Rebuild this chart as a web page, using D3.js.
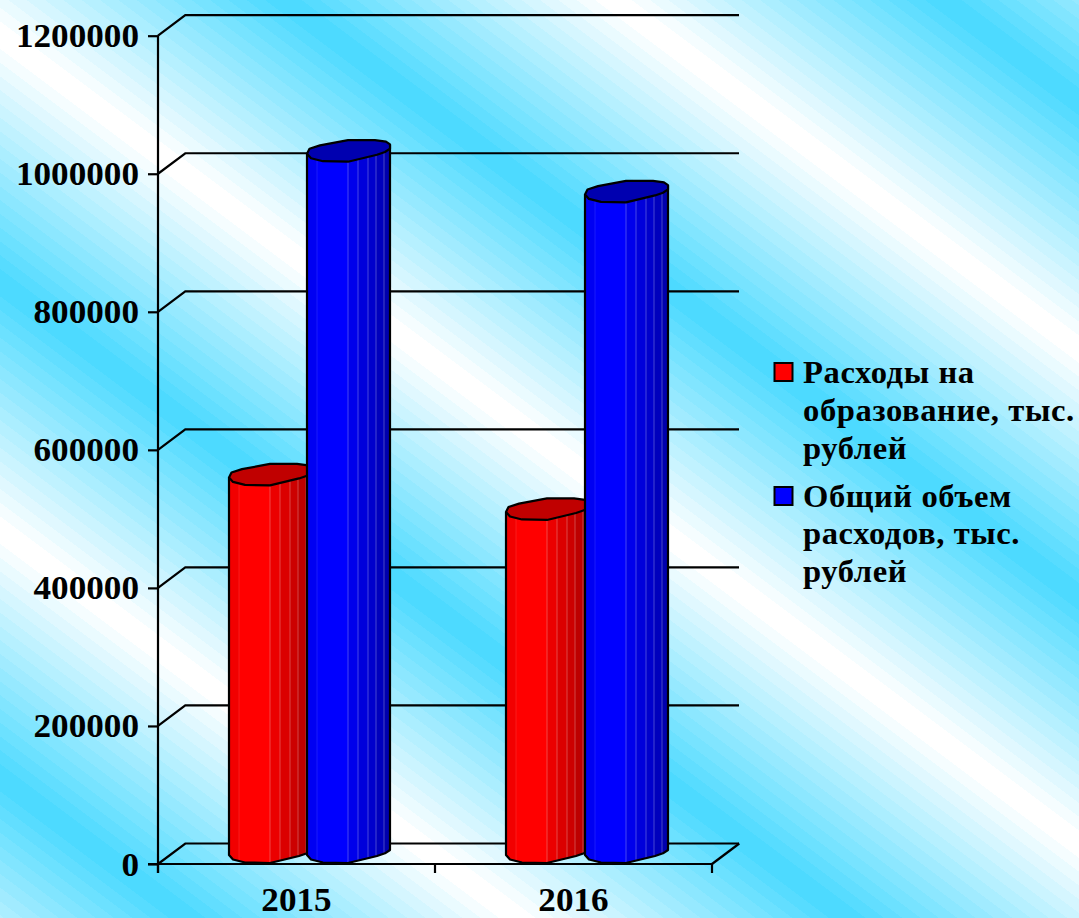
<!DOCTYPE html>
<html lang="ru">
<head>
<meta charset="utf-8">
<script src="https://cdn.jsdelivr.net/npm/d3@7/dist/d3.min.js"></script>
<style>
html,body{margin:0;padding:0;overflow:hidden;background:#fff}
svg{display:block}
text{font-family:"Liberation Serif",serif;font-weight:bold;fill:#000}
</style>
</head>
<body>
<script>
const categories = ["2015", "2016"];
const seriesNames = ["Расходы на образование, тыс. рублей", "Общий объем расходов, тыс. рублей"];
const educationSpending = [547000, 497000];
const totalSpending = [1016000, 957000];
const yTicks = [0, 200000, 400000, 600000, 800000, 1000000, 1200000];
const legendLines = [["Расходы на", "образование, тыс.", "рублей"], ["Общий объем", "расходов, тыс.", "рублей"]];
const seriesColors = ["#ff0000", "#0000ff"];
const topColors = ["#c00000", "#0000b0"];

const W = 1079, H = 918;
const svg = d3.select("body").append("svg").attr("width", W).attr("height", H);

// Background: banded diagonal reflected gradient
const defs = svg.append("defs");
const grad = defs.append("linearGradient").attr("id", "bg")
  .attr("gradientUnits", "userSpaceOnUse").attr("spreadMethod", "reflect")
  .attr("x1", 102).attr("y1", -136).attr("x2", -16.8).attr("y2", 22.4);
const steps = 18;
const bandColor = d3.interpolateRgb("#4ddaff", "#ffffff");
d3.range(steps).forEach(i => {
  const c = bandColor(i / (steps - 1));
  grad.append("stop").attr("offset", i / steps).attr("stop-color", c);
  grad.append("stop").attr("offset", (i + 1) / steps).attr("stop-color", c);
});
svg.append("rect").attr("width", W).attr("height", H).attr("fill", "url(#bg)");

// Scales
const y = d3.scaleLinear().domain([0, 1200000]).range([864, 35.7]);
const x0 = d3.scaleBand().domain(categories).range([158, 712]);
const x1 = d3.scaleOrdinal().domain([0, 1]).range([71, 149]);
const depthX = 27.3, depthY = 20.5, backExtent = 739;

const numStretch = 1.05, numSize = 33.5;
const stretch = (sel, tx, ty, k) => sel.attr("x", 0).attr("transform", `translate(${tx},${ty}) scale(${k},1)`);

// Back grid and floor
const grid = svg.append("g").attr("fill", "none").attr("stroke", "#000").attr("stroke-width", 2.2);
grid.selectAll("path").data(yTicks).join("path")
  .attr("d", d => `M158,${y(d)}L${158 + depthX},${y(d) - depthY}L${backExtent},${y(d) - depthY}`);
grid.append("path").attr("d", `M${x0.range()[1]},${y(0)}L${x0.range()[1] + depthX},${y(0) - depthY}`);

// Axes
const yAxis = svg.append("g").attr("transform", "translate(158,0)")
  .call(d3.axisLeft(y).tickValues(yTicks).tickSize(10).tickFormat(d3.format("d")));
yAxis.select(".domain").remove();
yAxis.selectAll("line").attr("stroke", "#000").attr("stroke-width", 2.2);
yAxis.selectAll("text").attr("font-size", numSize).attr("text-anchor", "end").attr("dy", null)
  .call(stretch, -19, 11, numStretch);
yAxis.append("line").attr("x1", 0).attr("x2", 0).attr("y1", y(1200000)).attr("y2", y(0) + 9)
  .attr("stroke", "#000").attr("stroke-width", 2.2);

const xAxis = svg.append("g").attr("transform", `translate(0,${y(0)})`)
  .call(d3.axisBottom(x0).tickSize(0));
xAxis.select(".domain").remove();
xAxis.selectAll("text").attr("font-size", 33).attr("text-anchor", "middle").attr("dy", null).attr("y", null)
  .call(stretch, 0, 46.8, 1.065);
xAxis.append("line").attr("x1", x0.range()[0] - 10).attr("x2", x0.range()[1]).attr("stroke", "#000").attr("stroke-width", 2.2);
xAxis.selectAll(".edge").data([x0.range()[0], x0(categories[1]), x0.range()[1]]).join("line")
  .attr("class", "edge").attr("x1", d => d).attr("x2", d => d).attr("y1", 0).attr("y2", 9)
  .attr("stroke", "#000").attr("stroke-width", 2.2);

// Column cross-section template (offsets from the left corner)
const colW = 83;
const frontX = [0, 4, 16, 41, 70, 78, 83];
const frontY = [0, 4.5, 7.5, 8, 1, -1.7, -5];
const backX = [83, 79, 68, 41, 13, 2.5, 0];
const backY = [-9.3, -12, -13.5, -13.5, -8.3, -5, 0];
const profile = d3.scaleLinear().domain(frontX).range(frontY);
const stripEdges = [0, 10, 41, 51, 61, 69, 77, 83];
const stripShade = [0.95, 1, 0.92, 0.86, 0.8, 0.74, 0.68];
const baseLift = 9;
const line = d3.line();

const columns = categories.flatMap((c, i) => [educationSpending[i], totalSpending[i]].map((v, s) => ({c, v, s})));
const colG = svg.append("g");
columns.forEach(d => {
  const g = colG.append("g");
  const left = x0(d.c) + x1(d.s) + (d.c === "2016" && d.s === 1 ? 1 : 0);
  const top = y(d.v) - baseLift, base = y(0) - baseLift;
  const color = d3.rgb(seriesColors[d.s]);
  const shade = k => d3.rgb(color.r * k, color.g * k, color.b * k).formatHex();
  // facets
  d3.pairs(stripEdges).forEach(([a, b], i) => {
    const xs = [a, ...frontX.filter(f => f > a && f < b), b];
    const pts = [...xs.map(t => [left + t, top + profile(t)]), ...xs.slice().reverse().map(t => [left + t, base + profile(t)])];
    g.append("path").attr("d", line(pts) + "Z").attr("fill", shade(stripShade[i])).attr("stroke", shade(stripShade[i])).attr("stroke-width", 0.5);
    if (i > 0) {
      g.append("line").attr("x1", left + a).attr("x2", left + a)
        .attr("y1", top + profile(a)).attr("y2", base + profile(a))
        .attr("stroke", "#fff").attr("stroke-opacity", i > 1 ? 0.28 : 0.1).attr("stroke-width", 1);
    }
  });
  // silhouette of the body
  const frontBase = frontX.map(t => [left + t, base + profile(t)]);
  g.append("path").attr("d", line([[left, top], ...frontBase, [left + colW, top + backY[0]]]))
    .attr("fill", "none").attr("stroke", "#000").attr("stroke-width", 2.2).attr("stroke-linejoin", "round");
  // top cap
  const cap = [...frontX.map((t, i) => [left + t, top + frontY[i]]), ...backX.map((t, i) => [left + t, top + backY[i]])];
  g.append("path").attr("d", line(cap) + "Z").attr("fill", topColors[d.s]).attr("stroke", "#000")
    .attr("stroke-width", 2.2).attr("stroke-linejoin", "round");
});

// Legend
const legendX = 803, swatchX = 774.5, swatchSize = 18;
const legendBaselines = [[382.5, 421, 458.5], [506.5, 543.5, 582]];
const legend = svg.append("g");
legendLines.forEach((lines, s) => {
  legend.append("rect").attr("x", swatchX).attr("y", legendBaselines[s][0] - 19.5)
    .attr("width", swatchSize).attr("height", swatchSize)
    .attr("fill", seriesColors[s]).attr("stroke", "#000").attr("stroke-width", 2);
  lines.forEach((t, i) => {
    legend.append("text").text(t).attr("font-size", 32.6).attr("letter-spacing", 0.6)
      .call(stretch, legendX, legendBaselines[s][i], 1);
  });
});
</script>
</body>
</html>
